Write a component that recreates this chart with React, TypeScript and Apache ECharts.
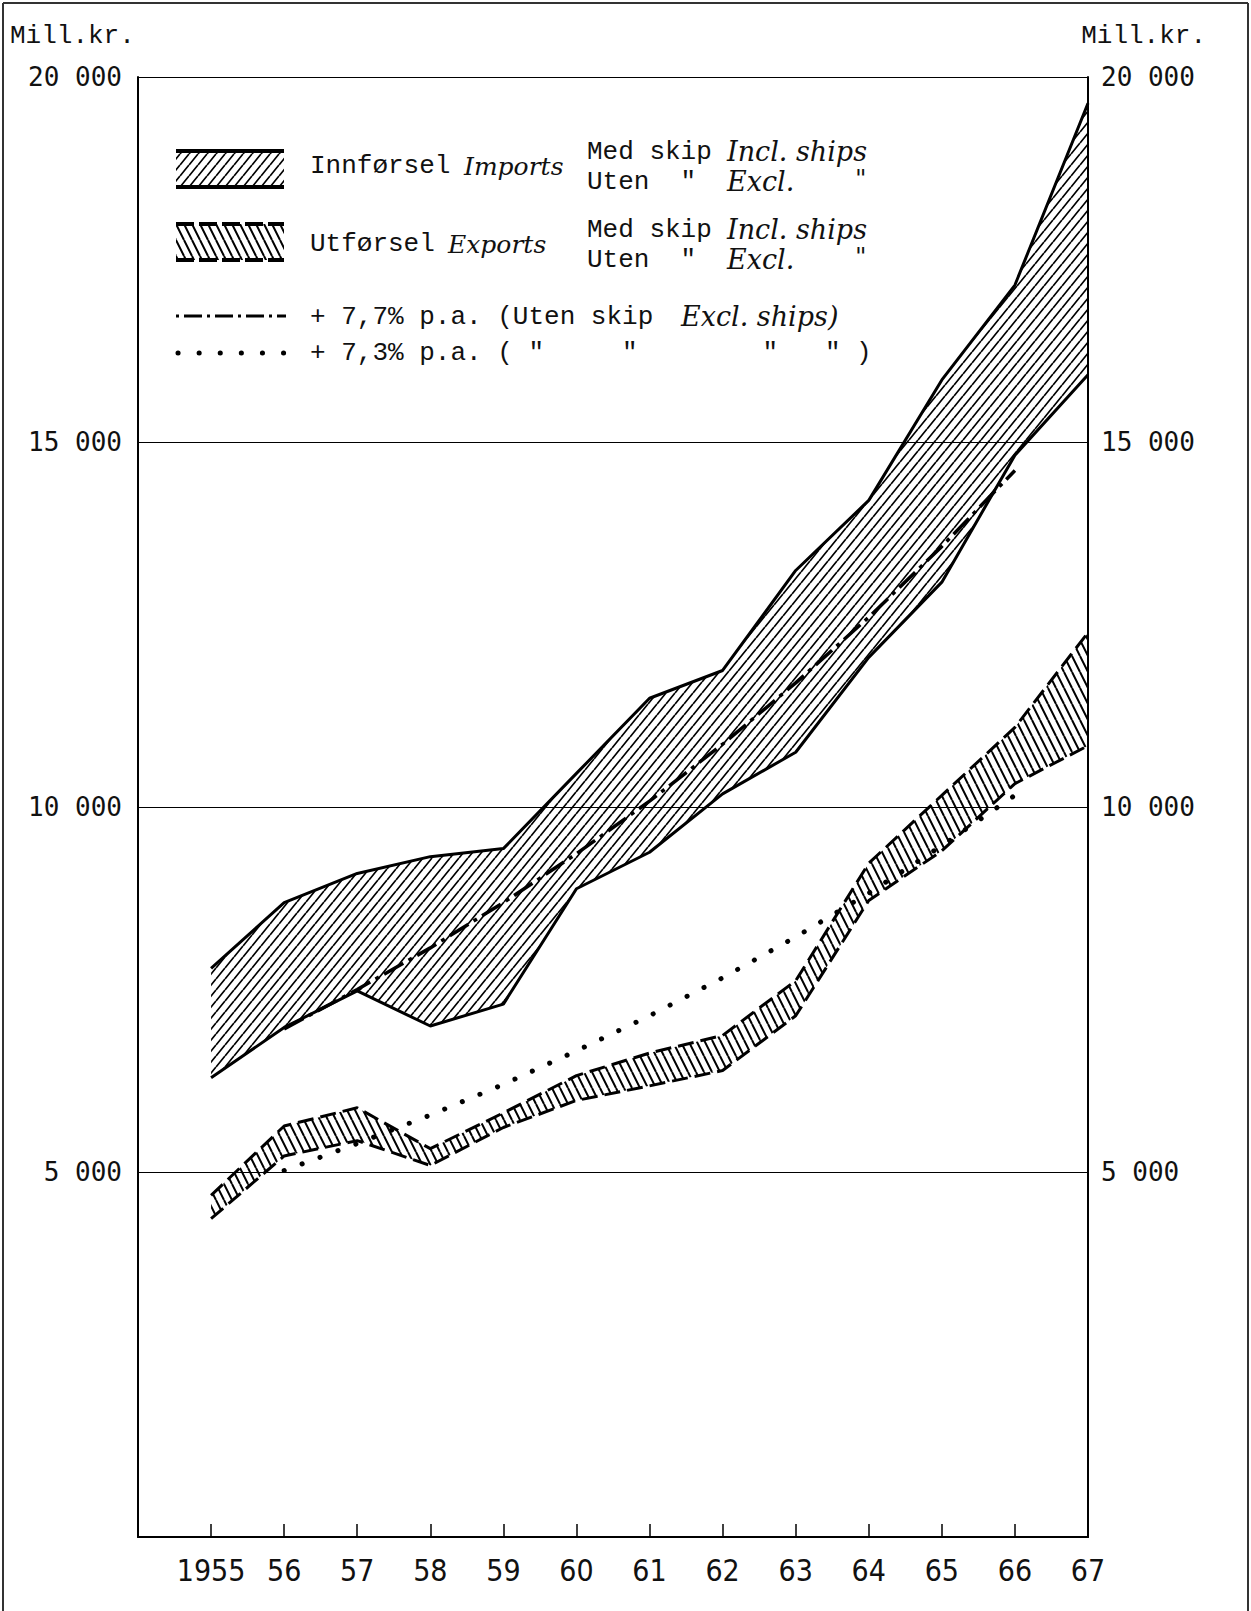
import React, { useEffect, useRef } from 'react';
import * as echarts from 'echarts';

const years = [1955, 1956, 1957, 1958, 1959, 1960, 1961, 1962, 1963, 1964, 1965, 1966, 1967];
const importsIncl = [7790, 8690, 9090, 9320, 9430, 10460, 11490, 11870, 13240, 14200, 15850, 17150, 19640];
const importsExcl = [6290, 6980, 7480, 7000, 7300, 8880, 9380, 10180, 10750, 12050, 13080, 14820, 15920];
const exportsIncl = [4680, 5630, 5880, 5320, 5810, 6320, 6630, 6870, 7620, 9230, 10160, 11090, 12390];
const exportsExcl = [4360, 5220, 5430, 5090, 5610, 5980, 6180, 6390, 7140, 8720, 9400, 10320, 10840];
const trendYears = [1956, 1957, 1958, 1959, 1960, 1961, 1962, 1963, 1964, 1965, 1966];
const trend77 = [6960, 7500, 8070, 8690, 9360, 10080, 10860, 11700, 12600, 13570, 14610];
const trend73 = [5020, 5390, 5780, 6200, 6660, 7140, 7660, 8220, 8820, 9470, 10160];

const MONO = "'Liberation Mono', 'DejaVu Sans Mono', monospace";
const NUM = "'DejaVu Sans Mono', monospace";
const ITAL = "'DejaVu Serif', 'Liberation Serif', serif";
const NARROW = "'Liberation Sans Narrow', 'DejaVu Sans Condensed', 'Liberation Sans', sans-serif";

function makeHatch(dir: number, w: number, h: number, lw: number) {
  const c = document.createElement('canvas');
  c.width = w;
  c.height = h;
  const ctx = c.getContext('2d')!;
  ctx.strokeStyle = '#000';
  ctx.lineWidth = lw;
  ctx.beginPath();
  for (let k = -1; k <= 1; k++) {
    if (dir > 0) {
      ctx.moveTo(k * w, h);
      ctx.lineTo(k * w + w, 0);
    } else {
      ctx.moveTo(k * w, 0);
      ctx.lineTo(k * w + w, h);
    }
  }
  ctx.stroke();
  return { image: c, repeat: 'repeat', imageWidth: w, imageHeight: h } as any;
}

const pairs = (xs: number[], ys: number[]) => xs.map((x, i) => [x, ys[i]]);

const bandSeries = (name: string, upper: number[], lower: number[], fill: any) => ({
  type: 'custom',
  name,
  silent: true,
  z: 1,
  data: [[years[0], lower[0]]],
  renderItem: (_params: any, api: any) => {
    const top = years.map((x, i) => api.coord([x, upper[i]]));
    const bottom = years.map((x, i) => api.coord([x, lower[i]])).reverse();
    return {
      type: 'polygon',
      shape: { points: top.concat(bottom) },
      style: { fill, stroke: 'none' },
    };
  },
});

export default function App() {
  const ref = useRef<HTMLDivElement>(null);
  useEffect(() => {
    if (!ref.current) return;
    const chart = echarts.init(ref.current, undefined, { renderer: 'svg' });
    const impHatch = makeHatch(1, 9, 11, 1.7);
    const expHatch = makeHatch(-1, 8, 16, 2);
    const impHatch2 = makeHatch(1, 9, 11, 1.7);
    const expHatch2 = makeHatch(-1, 8, 16, 2);

    const base = { type: 'line', symbol: 'none', silent: true };

    const t = (text: string, x: number, y: number, font: string, size: number, italic = false, align = 'left') => ({
      type: 'text',
      x,
      y,
      style: {
        text,
        fill: '#111',
        font: `${italic ? 'italic ' : ''}${size}px ${font}`,
        textAlign: align,
        textVerticalAlign: 'middle',
      },
    });

    const graphics: any[] = [
      { type: 'line', shape: { x1: 3, y1: 3, x2: 1248, y2: 3 }, style: { stroke: '#333', lineWidth: 2 } },
      { type: 'line', shape: { x1: 3, y1: 3, x2: 3, y2: 1611 }, style: { stroke: '#333', lineWidth: 2 } },
      { type: 'line', shape: { x1: 1248, y1: 3, x2: 1248, y2: 1611 }, style: { stroke: '#333', lineWidth: 2 } },
      t('Mill.kr.', 10, 36, MONO, 26),
      t('Mill.kr.', 1206, 36, MONO, 26, false, 'right'),
      // legend swatches
      { type: 'rect', shape: { x: 176, y: 151, width: 108, height: 36 }, style: { fill: impHatch2, stroke: 'none' } },
      { type: 'line', shape: { x1: 176, y1: 151, x2: 284, y2: 151 }, style: { stroke: '#000', lineWidth: 4 } },
      { type: 'line', shape: { x1: 176, y1: 187, x2: 284, y2: 187 }, style: { stroke: '#000', lineWidth: 4 } },
      { type: 'rect', shape: { x: 176, y: 224, width: 108, height: 36 }, style: { fill: expHatch2, stroke: 'none' } },
      { type: 'line', shape: { x1: 176, y1: 224, x2: 284, y2: 224 }, style: { stroke: '#000', lineWidth: 4, lineDash: [18, 5] } },
      { type: 'line', shape: { x1: 176, y1: 260, x2: 284, y2: 260 }, style: { stroke: '#000', lineWidth: 4, lineDash: [18, 5] } },
      { type: 'line', shape: { x1: 176, y1: 316, x2: 286, y2: 316 }, style: { stroke: '#000', lineWidth: 3, lineDash: [3, 5, 18, 5] } },
      { type: 'line', shape: { x1: 178, y1: 353, x2: 286, y2: 353 }, style: { stroke: '#000', lineWidth: 5, lineDash: [0.1, 21], lineCap: 'round' } },
      // legend texts
      t('Innførsel', 310, 166, MONO, 26),
      t('Imports', 464, 166, ITAL, 25, true),
      t('Med skip', 587, 152, MONO, 26),
      t('Incl. ships', 727, 151, ITAL, 27, true),
      t('Uten  "', 587, 182, MONO, 26),
      t('Excl.', 727, 181, ITAL, 27, true),
      t('"', 855, 178, ITAL, 25, true),
      t('Utførsel', 310, 244, MONO, 26),
      t('Exports', 448, 244, ITAL, 25, true),
      t('Med skip', 587, 230, MONO, 26),
      t('Incl. ships', 727, 229, ITAL, 27, true),
      t('Uten  "', 587, 260, MONO, 26),
      t('Excl.', 727, 259, ITAL, 27, true),
      t('"', 855, 256, ITAL, 25, true),
      t('+ 7,7% p.a. (Uten skip', 310, 317, MONO, 26),
      t('Excl. ships)', 681, 316, ITAL, 27, true),
      t('+ 7,3% p.a. ( "     "        "   " )', 310, 353, MONO, 26),
    ];

    chart.setOption({
      animation: false,
      backgroundColor: '#fff',
      grid: { left: 138, right: 163, top: 77, bottom: 74 },
      xAxis: [
        {
          type: 'value',
          min: 1954,
          max: 1967,
          interval: 1,
          position: 'bottom',
          axisLine: { show: true, lineStyle: { color: '#000', width: 2 } },
          axisTick: { show: true, inside: true, length: 13, lineStyle: { color: '#000', width: 1.5 } },
          splitLine: { show: false },
          axisLabel: {
            margin: 18,
            color: '#111',
            fontFamily: NARROW,
            fontSize: 30,
            formatter: (v: number) => (v < 1955 ? '' : v === 1955 ? '1955' : String(v).slice(2)),
          },
        },
        {
          type: 'value',
          min: 1954,
          max: 1967,
          position: 'top',
          axisLine: { show: true, lineStyle: { color: '#000', width: 1.5 } },
          axisTick: { show: false },
          axisLabel: { show: false },
          splitLine: { show: false },
        },
      ],
      yAxis: [
        {
          type: 'value',
          min: 0,
          max: 20000,
          interval: 5000,
          position: 'left',
          axisLine: { show: true, lineStyle: { color: '#000', width: 2 } },
          axisTick: { show: false },
          splitLine: { show: true, lineStyle: { color: '#000', width: 1.2 } },
          axisLabel: {
            margin: 16,
            color: '#111',
            fontFamily: NUM,
            fontSize: 26,
            formatter: (v: number) => (v === 0 ? '' : `${v / 1000} 000`),
          },
        },
        {
          type: 'value',
          min: 0,
          max: 20000,
          interval: 5000,
          position: 'right',
          axisLine: { show: true, lineStyle: { color: '#000', width: 2 } },
          axisTick: { show: false },
          splitLine: { show: false },
          axisLabel: {
            margin: 13,
            color: '#111',
            fontFamily: NUM,
            fontSize: 26,
            formatter: (v: number) => (v === 0 ? '' : `${v / 1000} 000`),
          },
        },
      ],
      graphic: graphics,
      series: [
        bandSeries('Imports band', importsIncl, importsExcl, impHatch),
        bandSeries('Exports band', exportsIncl, exportsExcl, expHatch),
        { ...base, z: 5, name: 'Imports incl', data: pairs(years, importsIncl), lineStyle: { color: '#000', width: 3 } },
        { ...base, z: 5, name: 'Imports excl', data: pairs(years, importsExcl), lineStyle: { color: '#000', width: 3 } },
        { ...base, z: 5, name: 'Exports incl', data: pairs(years, exportsIncl), lineStyle: { color: '#000', width: 3, type: [16, 7] } },
        { ...base, z: 5, name: 'Exports excl', data: pairs(years, exportsExcl), lineStyle: { color: '#000', width: 3, type: [16, 7] } },
        { ...base, z: 6, name: '+7,7%', data: pairs(trendYears, trend77), lineStyle: { color: '#000', width: 3.5, type: [22, 6, 4, 6] } },
        { ...base, z: 6, name: '+7,3%', data: pairs(trendYears, trend73), lineStyle: { color: '#000', width: 5, type: [0.1, 19], cap: 'round' } },
      ],
    });
    return () => chart.dispose();
  }, []);
  return <div ref={ref} style={{ position: 'absolute', left: 0, top: 0, width: 1251, height: 1611, background: '#fff' }} />;
}
